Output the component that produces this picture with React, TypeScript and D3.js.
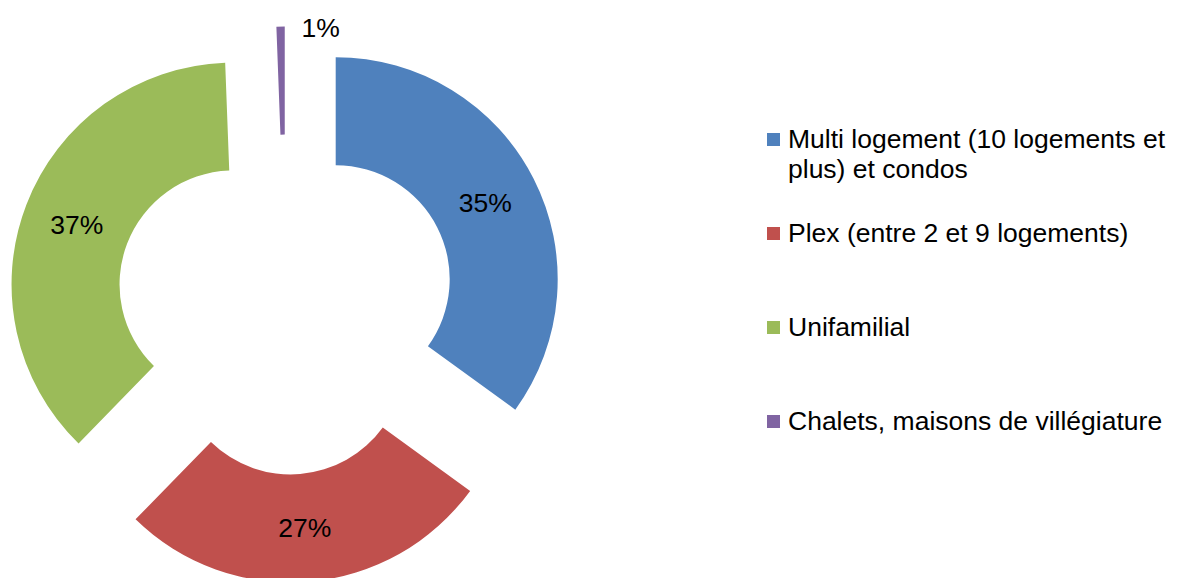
import { useEffect, useRef } from 'react';
import * as d3 from 'd3';

// share of each housing type (percent)
const categories = [
  'Multi logement (10 logements et plus) et condos',
  'Plex (entre 2 et 9 logements)',
  'Unifamilial',
  'Chalets, maisons de villégiature',
];
const legendLines = [
  ['Multi logement (10 logements et', 'plus) et condos'],
  ['Plex (entre 2 et 9 logements)'],
  ['Unifamilial'],
  ['Chalets, maisons de villégiature'],
];
const values = [35.0, 27.3, 37.1, 0.6];
const colors = ['#4F81BD', '#C0504D', '#9BBB59', '#8064A2'];

const WIDTH = 1178;
const HEIGHT = 578;

export default function App() {
  const svgRef = useRef<SVGSVGElement>(null);

  useEffect(() => {
    if (!svgRef.current) return;
    const svg = d3.select(svgRef.current);
    svg.selectAll('*').remove();

    const cx = 285.8;
    const cy = 304.6;
    const outerR = 222;
    const innerR = 114;
    const explode = 56;
    const font = 'Liberation Sans, Arial, sans-serif';
    const fontSize = 26.5;

    const pie = d3.pie<number>().sort(null).value(d => d);
    const arcs = pie(values);
    const arc = d3.arc<d3.PieArcDatum<number>>()
      .innerRadius(innerR)
      .outerRadius(outerR);

    const g = svg.append('g').attr('transform', `translate(${cx},${cy})`);

    const slices = g.selectAll('g.slice')
      .data(arcs)
      .enter()
      .append('g')
      .attr('class', 'slice')
      .attr('transform', d => {
        const mid = (d.startAngle + d.endAngle) / 2;
        return `translate(${explode * Math.sin(mid)},${-explode * Math.cos(mid)})`;
      });

    slices.append('path')
      .attr('d', arc)
      .attr('fill', (_, i) => colors[i]);

    // data labels at the middle of the ring; the tiny slice gets its label outside
    const midR = (innerR + outerR) / 2;
    slices.append('text')
      .attr('x', (d, i) => {
        const mid = (d.startAngle + d.endAngle) / 2;
        return i === 3 ? outerR * Math.sin(mid) + 40 : midR * Math.sin(mid);
      })
      .attr('y', (d, i) => {
        const mid = (d.startAngle + d.endAngle) / 2;
        return i === 3 ? -outerR * Math.cos(mid) + 1 : -midR * Math.cos(mid);
      })
      .attr('dy', '0.36em')
      .attr('text-anchor', 'middle')
      .attr('font-family', font)
      .attr('font-size', fontSize)
      .attr('fill', '#000')
      .text(d => `${Math.round(d.data)}%`);

    // legend
    const legendX = 767;
    const baselines = [148, 242, 336, 430];
    const legend = svg.append('g');
    categories.forEach((name, i) => {
      const item = legend.append('g').attr('aria-label', name);
      item.append('rect')
        .attr('x', legendX)
        .attr('y', baselines[i] - 15)
        .attr('width', 13)
        .attr('height', 13)
        .attr('fill', colors[i]);
      legendLines[i].forEach((line, j) => {
        item.append('text')
          .attr('x', legendX + 21)
          .attr('y', baselines[i] + j * 30)
          .attr('font-family', font)
          .attr('font-size', fontSize)
          .attr('fill', '#000')
          .text(line);
      });
    });
  }, []);

  return (
    <div style={{ position: 'absolute', left: 0, top: 0 }}>
      <svg ref={svgRef} width={WIDTH} height={HEIGHT} style={{ display: 'block', background: '#fff' }} />
    </div>
  );
}
